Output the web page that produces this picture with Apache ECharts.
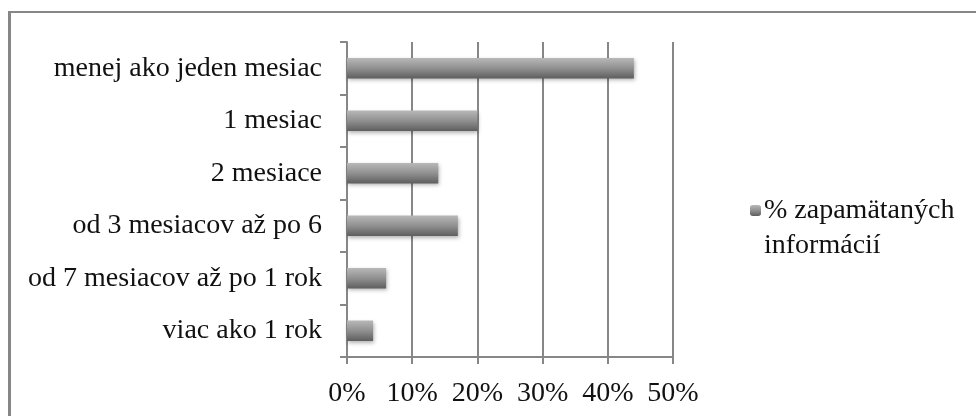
<!DOCTYPE html>
<html>
<head>
<meta charset="utf-8">
<script src="https://cdn.jsdelivr.net/npm/echarts@6/dist/echarts.min.js"></script>
<style>
  html, body { margin: 0; padding: 0; background: #fff; }
  #frame { position: absolute; left: 8px; top: 11px; width: 968px; height: 405px;
           border-left: 3px solid #868686; border-top: 2px solid #868686; box-sizing: border-box; }
  #chart { position: absolute; left: 0; top: 0; width: 976px; height: 416px; }
</style>
</head>
<body>
<div id="frame"></div>
<div id="chart"></div>
<script>
// Time categories, listed bottom-to-top as the category axis draws them
const categories = [
  'viac ako 1 rok',
  'od 7 mesiacov až po 1 rok',
  'od 3 mesiacov až po 6',
  '2 mesiace',
  '1 mesiac',
  'menej ako jeden mesiac'
];
// Share of remembered information (%)
const remembered = [4, 6, 17, 14, 20, 44];
const seriesName = '% zapamätaných informácií';
const xTicks = [0, 10, 20, 30, 40, 50];

const chart = echarts.init(document.getElementById('chart'), null, { renderer: 'canvas' });
const font = '"Liberation Serif", "Times New Roman", serif';
const axisGray = '#878787';
const fontSize = 28;

chart.setOption({
  animation: false,
  textStyle: { fontFamily: font },
  grid: { left: 347, right: 303, top: 42, bottom: 59, containLabel: false },
  legend: {
    data: [seriesName],
    left: 745, top: 153,
    orient: 'vertical',
    itemWidth: 11, itemHeight: 11,
    itemGap: 0,
    // leading blank line keeps the marker level with the first text line
    formatter: () => '\n% zapamätaných\ninformácií',
    textStyle: { fontFamily: font, fontSize: fontSize, color: '#111', lineHeight: 35, padding: [0, 0, 0, -2] }
  },
  xAxis: {
    type: 'value',
    min: xTicks[0], max: xTicks[xTicks.length - 1], interval: 10,
    axisLine: { show: true, lineStyle: { color: axisGray, width: 2 } },
    axisTick: { show: true, length: 7, lineStyle: { color: axisGray, width: 2 } },
    splitLine: { show: true, lineStyle: { color: axisGray, width: 2 } },
    axisLabel: { formatter: '{value}%', fontFamily: font, fontSize: fontSize, color: '#111', margin: 23 }
  },
  yAxis: {
    type: 'category',
    data: categories,
    axisLine: { show: true, lineStyle: { color: axisGray, width: 2 } },
    axisTick: { show: true, length: 7, lineStyle: { color: axisGray, width: 2 } },
    axisLabel: { fontFamily: font, fontSize: fontSize, color: '#111', margin: 25 }
  },
  series: [{
    name: seriesName,
    type: 'bar',
    data: remembered,
    barWidth: '39%',
    itemStyle: {
      color: new echarts.graphic.LinearGradient(0, 0, 0, 1, [
        { offset: 0, color: '#b8b8b8' },
        { offset: 0.5, color: '#909090' },
        { offset: 1, color: '#5e5e5e' }
      ]),
      shadowColor: 'rgba(0,0,0,0.3)',
      shadowBlur: 4,
      shadowOffsetX: 1,
      shadowOffsetY: 2
    }
  }]
});
</script>
</body>
</html>
